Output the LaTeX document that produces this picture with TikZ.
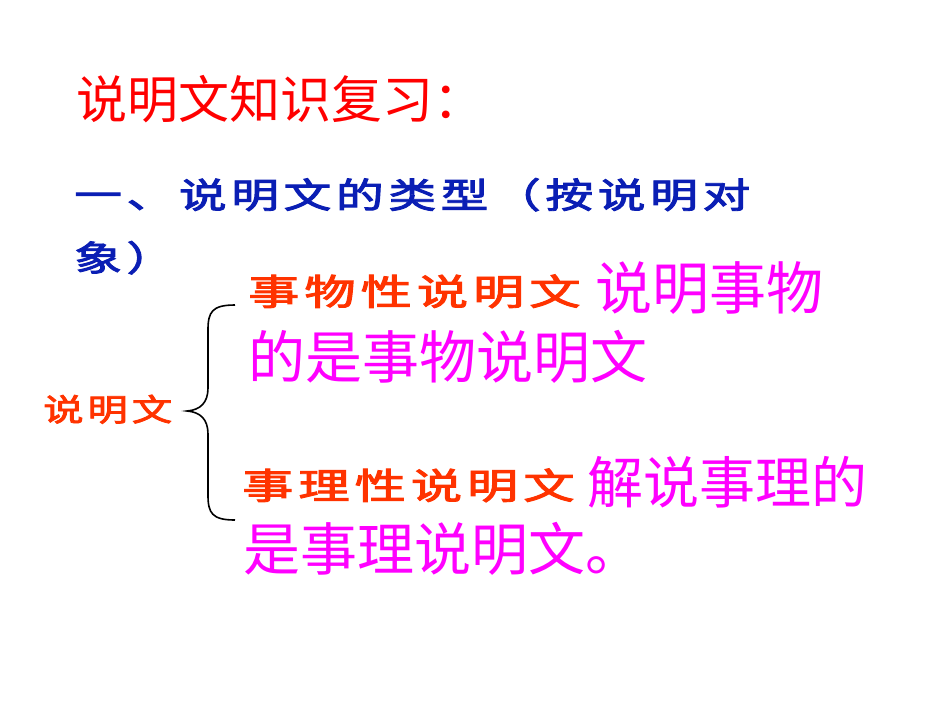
\documentclass[tikz,border=0pt]{standalone}
\usepackage{fontspec}
\newfontfamily\cjk{Noto Sans CJK SC}
\newfontfamily\cjkb{Noto Sans CJK SC}[FakeBold=2.5,LetterSpace=10]
\definecolor{tred}{HTML}{FF0000}
\definecolor{tblue}{HTML}{0A1EB4}
\definecolor{torange}{HTML}{FF3300}
\definecolor{tmag}{HTML}{FF00FF}
\begin{document}
\begin{tikzpicture}[x=1pt,y=-1pt,
  txt/.style={anchor=base west,inner sep=0pt},
  wide/.style={txt,xscale=#1,transform shape}]
\useasboundingbox[fill=white] (0,0) rectangle (950,713);
\node[txt,text=tred,font=\cjk\fontsize{51}{51}\selectfont] (title) at (76,118) {说明文知识复习：};
\node[wide=1.36,text=tblue,font=\cjkb\fontsize{35}{35}\selectfont] (h1) at (74,208) {一、说明文的类型（按说明对};
\node[wide=1.36,text=tblue,font=\cjkb\fontsize{35}{35}\selectfont] (h2) at (74,271) {象）};
\node[wide=1.3,text=torange,font=\cjkb\fontsize{31}{31}\selectfont] (root) at (43,421) {说明文};
\draw[line width=1.6pt] (235,305) .. controls (212,305) and (208,312) .. (208,330)
  -- (208,388) .. controls (208,403) and (200,410) .. (187,411)
  .. controls (200,412) and (208,419) .. (208,434)
  -- (208,495) .. controls (208,513) and (212,520) .. (235,520);
\node[wide=1.42,text=torange,font=\cjkb\fontsize{36}{36}\selectfont] (a0) at (248,305) {事物性说明文};
\node[txt,text=tmag,font=\cjk\fontsize{57}{57}\selectfont] (a1) at (595,309) {说明事物};
\node[txt,text=tmag,font=\cjk\fontsize{57}{57}\selectfont] (a2) at (248,378) {的是事物说明文};
\node[wide=1.42,text=torange,font=\cjkb\fontsize{36}{36}\selectfont] (b0) at (242,499) {事理性说明文};
\node[txt,text=tmag,font=\cjk\fontsize{56}{56}\selectfont] (b1) at (587,503) {解说事理的};
\node[txt,text=tmag,font=\cjk\fontsize{57}{57}\selectfont] (b2) at (243,570) {是事理说明文。};
\end{tikzpicture}
\end{document}
